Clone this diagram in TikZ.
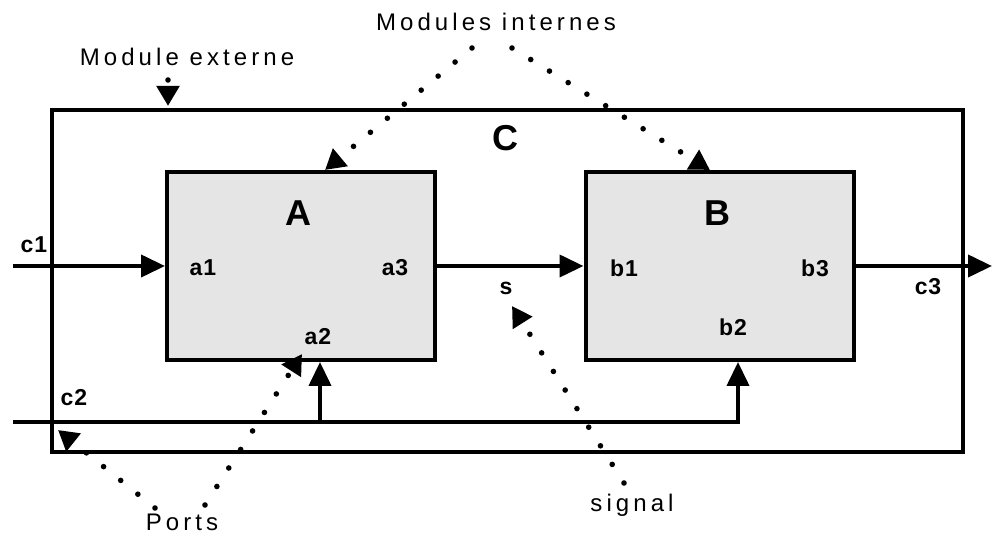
\documentclass[tikz,border=0pt]{standalone}
\usepackage{fontspec}
\setmainfont{Liberation Sans}[LetterSpace=17]
\newfontfamily\portfont{Liberation Sans}[LetterSpace=4]
\usetikzlibrary{arrows.meta}

\begin{document}
\begin{tikzpicture}[
   x=0.5pt,y=-0.5pt,
   module/.style={draw,line width=2pt,fill=black!10,minimum width=134pt,
                  minimum height=94pt,inner sep=0pt},
   outer/.style={draw,line width=2pt,minimum width=455.5pt,minimum height=171pt,
                 inner sep=0pt},
   port/.style={font=\portfont\bfseries\fontsize{11.5}{13}\selectfont,inner sep=1pt},
   title/.style={font=\portfont\bfseries\fontsize{18}{20}\selectfont,inner sep=1pt},
   note/.style={font=\fontsize{12}{14}\selectfont,inner sep=1pt},
   arr/.style={-{Triangle[length=12pt,width=11pt]},line width=2pt},
   ptr/.style={-{Triangle[length=10pt,width=11pt]},line width=2.8pt,
               line cap=round,dash pattern=on 0pt off 11pt}
 ]
  \useasboundingbox (0,0) rectangle (993,533);
  % modules
  \node[outer] (C) at (507.5,281) {};
  \node[module] (A) at (301,266) {};
  \node[module] (B) at (719.5,266) {};
  \node[title] (Cname) at (505,138) {C};
  \node[title] (Aname) at (298,213) {A};
  \node[title] (Bname) at (717,213) {B};
  % ports
  \node[port] (a1) at (203,268) {a1};
  \node[port] (a3) at (395,268) {a3};
  \node[port] (a2) at (318,337) {a2};
  \node[port] (b1) at (624,268) {b1};
  \node[port] (b3) at (815,268) {b3};
  \node[port] (b2) at (733,327) {b2};
  \node[port] (c1) at (34,245) {c1};
  \node[port] (c2) at (74,398) {c2};
  \node[port] (c3) at (928,287) {c3};
  \node[port] (s) at (506,288) {s};
  % signals
  \coordinate (c1in) at (13,266);
  \coordinate (c2in) at (13,422);
  \coordinate (c3out) at (992,266);
  \coordinate (a2in) at (320,422);
  \coordinate (b2in) at (738,422);
  \draw[arr] (c1in) -- (A.west);
  \draw[arr] (A.east) -- (B.west);
  \draw[arr] (B.east) -- (c3out);
  \draw[arr] (c2in) -- (b2in) -- (b2in |- B.south);
  \draw[arr] (a2in) -- (a2in |- A.south);
  % annotations
  \node[note] (extern) at (187,57) {Module externe};
  \node[note] (intern) at (496,22) {Modules internes};
  \node[note] (ports) at (182,522) {Ports};
  \node[note] (signal) at (632,505) {signal};
  \coordinate (externdot) at (168,80);
  \coordinate (externhit) at (168,106);
  \coordinate (internL) at (472,48);
  \coordinate (internR) at (512,48);
  \coordinate (Ahit) at (325,170);
  \coordinate (Bhit) at (710,170);
  \coordinate (portsL) at (155,508);
  \coordinate (portsR) at (205,505);
  \coordinate (c2hit) at (58,430);
  \coordinate (a2hit) at (302,354);
  \coordinate (sigdot) at (624,483);
  \coordinate (shit) at (512,306);
  \draw[ptr] (externdot) -- (externhit);
  \draw[ptr] (internL) -- (Ahit);
  \draw[ptr] (internR) -- (Bhit);
  \draw[ptr] (portsL) -- (c2hit);
  \draw[ptr] (portsR) -- (a2hit);
  \draw[ptr] (sigdot) -- (shit);
 \end{tikzpicture}
\end{document}
